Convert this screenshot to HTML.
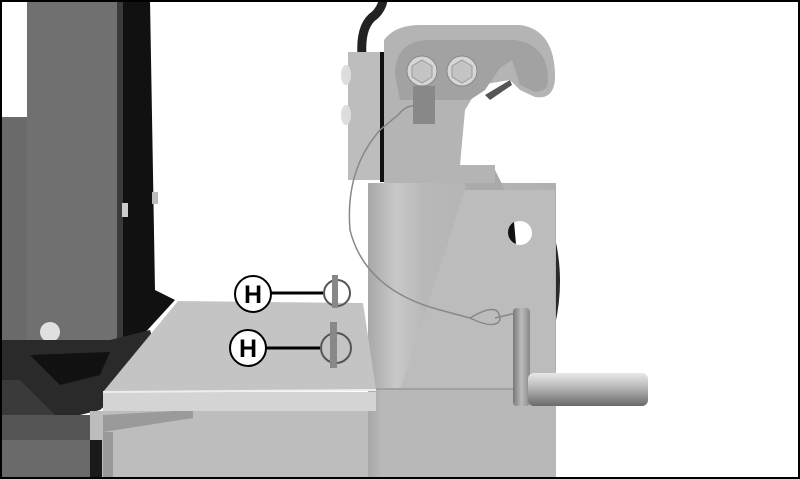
<!DOCTYPE html>
<html><head><style>html,body{margin:0;padding:0;background:#fff}svg{display:block}</style></head><body>
<svg width="800" height="479" viewBox="0 0 800 479" xmlns="http://www.w3.org/2000/svg">
<defs>
<linearGradient id="pin" x1="0" y1="0" x2="0" y2="1"><stop offset="0" stop-color="#e8e8e8"/><stop offset="0.4" stop-color="#bcbcbc"/><stop offset="1" stop-color="#6a6a6a"/></linearGradient>
<linearGradient id="vpin" x1="0" y1="0" x2="1" y2="0"><stop offset="0" stop-color="#777"/><stop offset="0.5" stop-color="#bbb"/><stop offset="1" stop-color="#888"/></linearGradient>
<linearGradient id="col" x1="0" y1="0" x2="1" y2="0"><stop offset="0" stop-color="#a8a8a8"/><stop offset="0.15" stop-color="#c8c8c8"/><stop offset="0.3" stop-color="#b8b8b8"/><stop offset="1" stop-color="#b0b0b0"/></linearGradient>
</defs>
<rect width="800" height="479" fill="#fff"/>
<!-- left machine -->
<rect x="0" y="117" width="30" height="362" fill="#5a5a5a"/>
<rect x="0" y="117" width="27" height="240" fill="#6a6a6a"/>
<path d="M120 0 H150 L155 290 L175 300 L120 360 Z" fill="#111"/>
<rect x="27" y="0" width="93" height="352" fill="#707070"/>
<rect x="117" y="0" width="6" height="352" fill="#3a3a3a"/>
<circle cx="50" cy="332" r="10" fill="#e0e0e0"/>
<rect x="122" y="203" width="6" height="14" fill="#ccc"/>
<rect x="152" y="192" width="6" height="12" fill="#bbb"/>
<path d="M0 340 L110 340 L150 330 L160 360 L100 410 L60 420 L0 420 Z" fill="#2a2a2a"/>
<path d="M30 355 L110 352 L100 375 L60 385 Z" fill="#111"/>
<path d="M20 380 L60 420 L50 440 L0 440 L0 380Z" fill="#3a3a3a"/>
<rect x="0" y="415" width="95" height="64" fill="#555"/>
<rect x="0" y="440" width="90" height="39" fill="#6a6a6a"/>
<!-- platform lower -->
<rect x="90" y="411" width="290" height="68" fill="#bdbdbd"/>
<path d="M103 415 L193 410 L193 418 L103 432 Z" fill="#9a9a9a"/>
<rect x="103" y="432" width="10" height="47" fill="#999"/>
<rect x="90" y="440" width="12" height="39" fill="#1a1a1a"/>
<!-- disc behind -->
<path d="M540 195 Q580 280 540 370 Z" fill="#2a2a2a"/>
<!-- right column -->
<rect x="368" y="183" width="188" height="296" fill="url(#col)"/>
<path d="M465 190 L555 190 L555 390 L400 390 Z" fill="#bcbcbc"/>
<rect x="380" y="390" width="176" height="89" fill="#b8b8b8"/>
<rect x="368" y="388" width="188" height="2" fill="#a0a0a0"/>
<path d="M465 183 L495 170 L505 190 L465 190Z" fill="#aaa"/>
<!-- hole -->
<circle cx="520" cy="233" r="12" fill="#fff"/>
<path d="M508 233 A12 12 0 0 1 514 222 L516 244 A12 12 0 0 1 508 233Z" fill="#111"/>
<!-- hose -->
<path d="M362 55 Q360 25 375 15 Q382 8 383 0" fill="none" stroke="#222" stroke-width="9"/>
<!-- upper plate -->
<rect x="348" y="52" width="36" height="128" fill="#bdbdbd"/>
<rect x="380" y="52" width="4" height="130" fill="#111"/>
<ellipse cx="346" cy="75" rx="5" ry="10" fill="#ddd"/>
<ellipse cx="346" cy="115" rx="5" ry="10" fill="#ddd"/>
<path d="M384 40 Q395 25 420 25 L520 25 Q556 30 555 80 Q553 100 535 97 L520 90 L510 80 L480 85 L465 110 L460 165 L495 165 L495 183 L384 183 Z" fill="#b4b4b4"/>
<path d="M395 75 Q395 40 430 40 L515 40 Q548 45 548 80 Q548 92 535 92 L520 85 L512 60 L500 68 L485 90 L470 100 L400 100 Z" fill="#a2a2a2"/>
<circle cx="422" cy="71" r="15" fill="#d6d6d6" stroke="#888"/>
<circle cx="462" cy="71" r="15" fill="#d6d6d6" stroke="#888"/>
<polygon points="422,60 432,66 432,77 422,83 412,77 412,66" fill="#c4c4c4" stroke="#999"/>
<polygon points="462,60 472,66 472,77 462,83 452,77 452,66" fill="#c4c4c4" stroke="#999"/>
<rect x="413" y="86" width="22" height="38" fill="#888"/>
<path d="M485 95 L510 80 L512 85 L490 100Z" fill="#555"/>
<!-- cable -->
<path d="M422 110 Q410 100 398 115 L380 130 Q345 170 350 230 Q365 290 440 310 L470 318" fill="none" stroke="#888" stroke-width="1.5"/>
<path d="M470 318 Q500 300 500 320 Q495 330 470 318" fill="none" stroke="#888" stroke-width="1.5"/>
<path d="M495 318 L520 312" stroke="#888" stroke-width="1.5"/>
<!-- vertical pin -->
<rect x="513" y="308" width="17" height="98" rx="4" fill="url(#vpin)"/>
<rect x="528" y="373" width="120" height="33" rx="6" fill="url(#pin)"/>
<!-- platform top -->
<path d="M178 301 L363 303 L376 390 L103 392 Z" fill="#c4c4c4"/>
<rect x="103" y="392" width="273" height="19" fill="#d4d4d4"/>
<line x1="103" y1="392" x2="376" y2="390" stroke="#eee" stroke-width="2"/>
<!-- lynch pins -->
<circle cx="337" cy="293" r="13" fill="none" stroke="#555" stroke-width="2"/>
<rect x="332" y="275" width="6" height="33" fill="#888"/>
<circle cx="336" cy="348" r="15" fill="none" stroke="#555" stroke-width="2"/>
<rect x="330" y="322" width="7" height="46" fill="#888"/>
<!-- labels -->
<line x1="270" y1="293" x2="323" y2="293" stroke="#000" stroke-width="3"/>
<line x1="264" y1="348" x2="320" y2="348" stroke="#000" stroke-width="3"/>
<circle cx="253" cy="294" r="18" fill="#fff" stroke="#000" stroke-width="2"/>
<circle cx="248" cy="348" r="18" fill="#fff" stroke="#000" stroke-width="2"/>
<text x="253" y="303" font-family="Liberation Sans, sans-serif" font-weight="bold" font-size="25" text-anchor="middle">H</text>
<text x="248" y="357" font-family="Liberation Sans, sans-serif" font-weight="bold" font-size="25" text-anchor="middle">H</text>
<rect x="1" y="1" width="798" height="477" fill="none" stroke="#000" stroke-width="2"/>
</svg>
</body></html>
